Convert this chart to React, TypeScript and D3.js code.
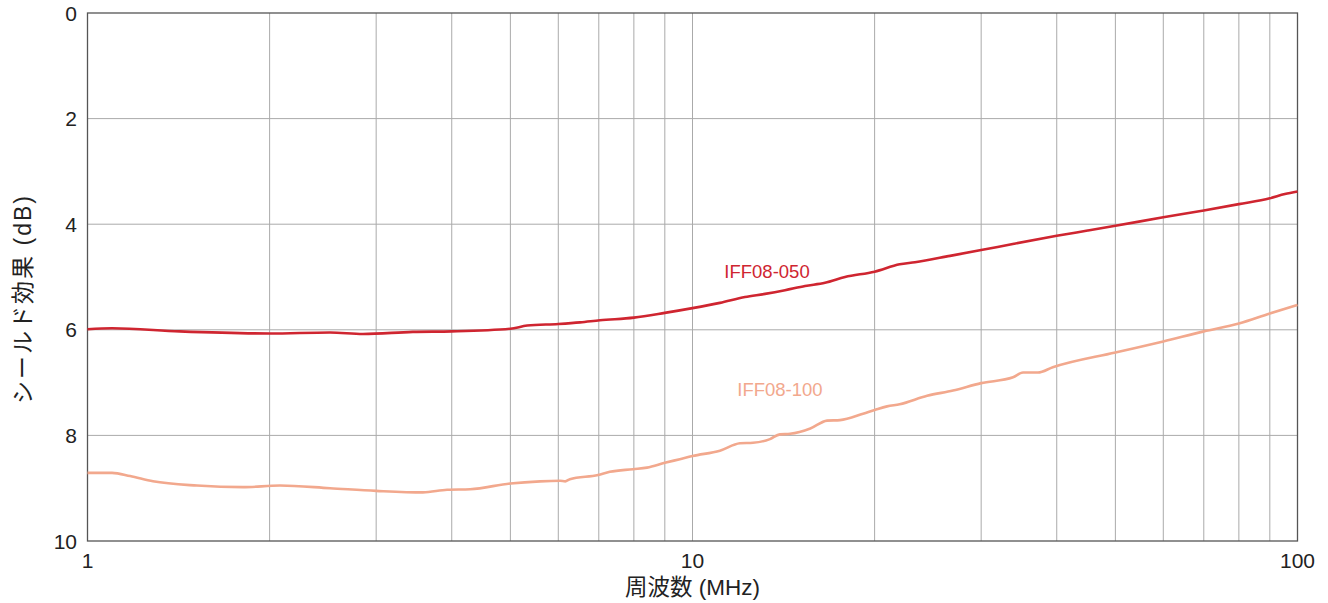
import React from "react";
import * as d3 from "d3";

const xTickLabels = [1, 10, 100];
const xGrid = [2, 3, 4, 5, 6, 7, 8, 9, 10, 20, 30, 40, 50, 60, 70, 80, 90];
const yTickLabels = [0, 2, 4, 6, 8, 10];

const seriesNames = ["IFF08-050", "IFF08-100"];
const seriesColors = ["#cf2530", "#f2a88d"];

// IFF08-050
const freq050 = [1, 1.098, 1.42, 2, 2.517, 2.853, 3.45, 4, 5, 5.33, 6, 6.52, 7.03, 8, 9, 10, 11.1, 12.21, 13.18, 14.22, 15.35, 16.56, 17.87, 20, 22, 23.32, 26.65, 30, 34, 40, 45, 50, 60, 70, 80, 90, 95.3, 100];
const shield050 = [5.99, 5.97, 6.03, 6.07, 6.05, 6.08, 6.04, 6.03, 5.98, 5.92, 5.89, 5.86, 5.82, 5.77, 5.68, 5.59, 5.49, 5.38, 5.32, 5.25, 5.17, 5.11, 5.0, 4.9, 4.76, 4.72, 4.6, 4.49, 4.37, 4.22, 4.12, 4.03, 3.87, 3.74, 3.62, 3.51, 3.43, 3.38];

// IFF08-100
const freq100 = [1, 1.098, 1.176, 1.283, 1.517, 1.807, 2.08, 2.517, 3, 3.585, 3.93, 4.29, 5, 5.6, 6.04, 6.16, 6.27, 6.98, 7.3, 7.97, 8.41, 9, 9.53, 10, 11.1, 11.98, 12.59, 13.43, 13.95, 14.5, 15.66, 16.69, 17.53, 19.14, 20, 20.97, 22, 24.42, 26.95, 30, 33.87, 35.18, 37.24, 39.4, 50, 60, 70, 80, 90, 100];
const shield100 = [8.71, 8.71, 8.77, 8.87, 8.95, 8.98, 8.95, 9.0, 9.05, 9.08, 9.03, 9.02, 8.91, 8.87, 8.86, 8.87, 8.83, 8.75, 8.69, 8.64, 8.61, 8.52, 8.45, 8.39, 8.29, 8.15, 8.14, 8.07, 7.98, 7.97, 7.87, 7.72, 7.71, 7.59, 7.52, 7.45, 7.41, 7.25, 7.15, 7.01, 6.9, 6.81, 6.81, 6.71, 6.43, 6.22, 6.03, 5.88, 5.69, 5.53];

const labelPos = [
  { f: 13.28, v: 5.02 },
  { f: 13.95, v: 7.25 },
];

const W = 1328;
const H = 603;
const left = 87.5;
const right = 1297.5;
const top = 13;
const bottom = 541;
const FONT = "'Liberation Sans', Arial, 'Noto Sans CJK JP', sans-serif";

export default function App() {
  const x = d3.scaleLog().domain([1, 100]).range([left, right]);
  const y = d3.scaleLinear().domain([0, 10]).range([top, bottom]);
  const line = d3
    .line<[number, number]>()
    .x((d) => x(d[0]))
    .y((d) => y(d[1]))
    .curve(d3.curveMonotoneX);

  const series = [
    freq050.map((f, i) => [f, shield050[i]] as [number, number]),
    freq100.map((f, i) => [f, shield100[i]] as [number, number]),
  ];

  return (
    <svg width={W} height={H} style={{ position: "absolute", left: 0, top: 0, background: "#fff" }}>
      <rect x={0} y={0} width={W} height={H} fill="#fff" />
      {xGrid.map((v) => (
        <line key={"xg" + v} x1={x(v)} x2={x(v)} y1={top} y2={bottom} stroke="#aaaaaa" strokeWidth={1} />
      ))}
      {yTickLabels.slice(1, -1).map((v) => (
        <line key={"yg" + v} x1={left} x2={right} y1={y(v)} y2={y(v)} stroke="#aaaaaa" strokeWidth={1} />
      ))}
      <rect x={left} y={top} width={right - left} height={bottom - top} fill="none" stroke="#555" strokeWidth={1.3} />
      {series.map((s, i) => (
        <path key={"s" + i} d={line(s) || ""} fill="none" stroke={seriesColors[i]} strokeWidth={2.6} strokeLinejoin="round" />
      ))}
      {seriesNames.map((n, i) => (
        <text key={"l" + i} x={x(labelPos[i].f)} y={y(labelPos[i].v)} fill={seriesColors[i]} fontSize={18.5} fontFamily={FONT} textAnchor="middle">
          {n}
        </text>
      ))}
      {yTickLabels.map((v) => (
        <text key={"yl" + v} x={77} y={y(v)} dy="0.36em" textAnchor="end" fontSize={21} fontFamily={FONT} fill="#222">
          {v}
        </text>
      ))}
      {xTickLabels.map((v) => (
        <text key={"xl" + v} x={x(v)} y={568} textAnchor="middle" fontSize={21} fontFamily={FONT} fill="#222">
          {v}
        </text>
      ))}
      <text x={(left + right) / 2} y={595} textAnchor="middle" fontSize={22.5} fontFamily={FONT} fill="#222">
        周波数 (MHz)
      </text>
      <text transform={`translate(31,${299}) rotate(-90)`} textAnchor="middle" fontSize={23} letterSpacing={2} fontFamily={FONT} fill="#222">
        シールド効果 (dB)
      </text>
    </svg>
  );
}
